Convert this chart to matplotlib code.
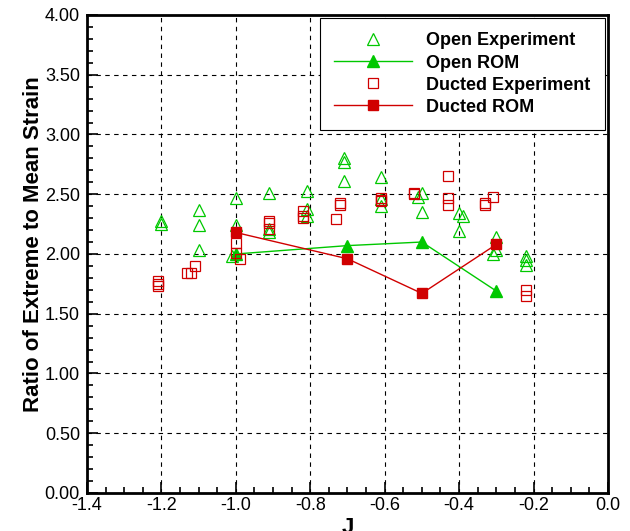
import matplotlib.pyplot as plt
from matplotlib.ticker import MultipleLocator, FormatStrFormatter

plt.rcParams['font.family'] = ['Liberation Sans', 'DejaVu Sans']

# advance ratio J and extreme/mean strain ratio
open_exp_J = [-1.20, -1.20, -1.10, -1.10, -1.10, -1.00, -1.00, -1.01, -0.91, -0.91, -0.91,
              -0.81, -0.81, -0.81, -0.71, -0.71, -0.71, -0.61, -0.61, -0.61, -0.50, -0.51,
              -0.50, -0.40, -0.39, -0.40, -0.30, -0.30, -0.31, -0.22, -0.22, -0.22]
open_exp_ratio = [2.28, 2.25, 2.37, 2.24, 2.03, 2.47, 2.24, 1.98, 2.51, 2.21, 2.18,
                  2.53, 2.38, 2.32, 2.80, 2.77, 2.61, 2.64, 2.46, 2.40, 2.51, 2.48,
                  2.35, 2.34, 2.32, 2.19, 2.14, 2.03, 2.00, 1.98, 1.95, 1.91]

ducted_exp_J = [-1.21, -1.21, -1.21, -1.11, -1.13, -1.12, -1.00, -1.00, -0.99, -0.91, -0.91,
                -0.91, -0.82, -0.82, -0.82, -0.72, -0.72, -0.73, -0.61, -0.61, -0.61, -0.52,
                -0.52, -0.43, -0.43, -0.43, -0.31, -0.33, -0.33, -0.22, -0.22]
ducted_exp_ratio = [1.77, 1.75, 1.73, 1.90, 1.84, 1.84, 2.09, 2.01, 1.96, 2.28, 2.26,
                    2.21, 2.36, 2.32, 2.30, 2.43, 2.41, 2.29, 2.47, 2.45, 2.44, 2.51,
                    2.50, 2.65, 2.47, 2.41, 2.48, 2.43, 2.41, 1.70, 1.65]

rom_J = [-1.0, -0.7, -0.5, -0.3]
open_rom = [2.00, 2.07, 2.10, 1.69]
ducted_rom = [2.18, 1.96, 1.67, 2.08]

green = '#00c800'
red = '#d00000'

fig = plt.figure(figsize=(6.3, 5.31), dpi=100)
ax = fig.add_axes([0.138, 0.0716, 0.827, 0.9002])

ax.plot(open_exp_J, open_exp_ratio, ls='none', marker='^', ms=8, mfc='none',
        mec=green, mew=0.9, label='Open Experiment')
ax.plot(rom_J, open_rom, color=green, lw=1, marker='^', ms=8, mfc=green,
        mec=green, label='Open ROM')
ax.plot(ducted_exp_J, ducted_exp_ratio, ls='none', marker='s', ms=6.5, mfc='none',
        mec=red, mew=0.9, label='Ducted Experiment')
ax.plot(rom_J, ducted_rom, color=red, lw=1, marker='s', ms=7, mfc=red,
        mec=red, label='Ducted ROM')

ax.set_xlim(-1.4, 0.0)
ax.set_ylim(0.0, 4.0)
ax.xaxis.set_major_locator(MultipleLocator(0.2))
ax.xaxis.set_minor_locator(MultipleLocator(0.05))
ax.yaxis.set_major_locator(MultipleLocator(0.5))
ax.yaxis.set_minor_locator(MultipleLocator(0.1))
ax.xaxis.set_major_formatter(FormatStrFormatter('%.1f'))
ax.yaxis.set_major_formatter(FormatStrFormatter('%.2f'))

ax.grid(True, which='major', color='black', ls=(0, (4, 4)), lw=0.8)
ax.tick_params(which='both', direction='in', labelsize=13, width=1.2)
ax.tick_params(which='major', length=8)
ax.tick_params(axis='y', which='major', pad=5)
ax.tick_params(axis='x', which='major', pad=3)
ax.tick_params(which='minor', length=4)
for s in ax.spines.values():
    s.set_linewidth(2)

ax.set_xlabel('J', fontsize=16, fontweight='bold', labelpad=2)
ax.set_ylabel('Ratio of Extreme to Mean Strain', fontsize=16, fontweight='bold')
ax.yaxis.set_label_coords(-0.082, 0.52)

leg = ax.legend(loc='upper right', prop={'weight': 'bold', 'size': 13},
                frameon=True, fancybox=False, framealpha=1, edgecolor='black',
                handlelength=4.3, handletextpad=0.8, markerscale=1.0,
                borderpad=0.8, labelspacing=0.28, borderaxespad=0.17)
leg.get_frame().set_linewidth(0.8)

fig.savefig('out.png', dpi=100)
